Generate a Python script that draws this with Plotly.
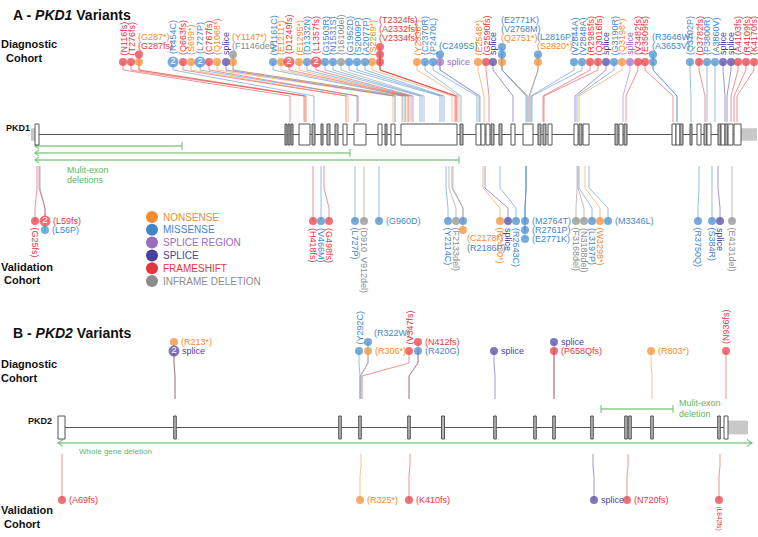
import plotly.graph_objects as go

FONT = "Liberation Sans, Arial, Helvetica, sans-serif"

# ---------------- variant classes ----------------
CLASS_CODES = ["N", "M", "SR", "S", "F", "D"]
CLASS_NAMES = ["NONSENSE", "MISSENSE", "SPLICE REGION", "SPLICE", "FRAMESHIFT", "INFRAME DELETION"]
CLASS_COLORS = ["#F28A2E", "#3F87C9", "#9A6CC0", "#4A3F9F", "#E5353D", "#8C8C8C"]
GREEN = "#5DB85F"

# ---------------- PKD1 gene structure (diagram units) ----------------
PKD1_EXON_START = [35, 285, 288, 291, 299, 312, 321, 327, 335, 343, 354, 378, 385, 391, 401, 460, 476,
                   481, 486, 491, 499, 511, 523, 538, 543, 548, 574, 579, 583, 615, 619, 624, 672, 676,
                   680, 690, 697, 704, 707, 718, 721, 725, 728, 734]
PKD1_EXON_END = [39, 287, 290, 293, 310, 315, 323, 330, 338, 347, 366, 382, 387, 395, 457, 463, 481,
                 485, 490, 494, 502, 515, 533, 541, 546, 552, 578, 582, 589, 618, 623, 627, 676, 680,
                 683, 692, 701, 707, 711, 721, 725, 728, 733, 741]
PKD1_UTR_START = [31, 741]
PKD1_UTR_END = [35, 757]
PKD1_DEL_START = [35, 35, 35]
PKD1_DEL_END = [182, 350, 459]

# ---------------- PKD1 diagnostic cohort ----------------
PKD1_DIAG_LABEL = ["(N116fs)", "(T276fs)", "(G287*)", "(G287fs)", "(R454C)", "(Q663fs)", "(S699*)", "(L727P)",
                   "(C767fs)", "(Q1068*)", "splice", "(Y1147*)", "(F1146del)", "(W1161C)", "(E1211*)",
                   "(D1249fs)", "(E1295*)", "(D1332N)", "(L1357fs)", "(G1503R)", "(N1531S)", "(I1610del)",
                   "(G1952D)", "(S2009P)", "(A2077P)", "(S2269*)", "(T2324fs)", "(A2332fs)", "(V2334fs)",
                   "(Y2336*)", "(C2370R)", "(P2470L)", "(C2495S)", "splice", "(E2548*)", "(G2590fs)",
                   "splice", "(E2771K)", "(V2768M)", "(Q2751*)", "(L2816P)", "(S2820*)", "(V2844A)",
                   "(V2848A)", "(R2985fs)", "(Q3016fs)", "splice", "(G3190R)", "(Q3198*)", "splice",
                   "(V3482fs)", "(E3509fs)", "(R3646W)", "(A3653V)", "(Q3702P)", "(D3782fs)", "(P3800R)",
                   "(A3860V)", "splice", "splice", "(A4103fs)", "(R4109fs)", "(K4170fs)"]
PKD1_DIAG_TYPE = ["F", "F", "N", "F", "M", "F", "N", "M", "F", "N",
                  "S", "N", "D", "M", "N", "F", "N", "M", "F", "M",
                  "M", "D", "M", "M", "M", "N", "F", "F", "F", "N",
                  "M", "M", "M", "SR", "N", "F", "S", "M", "M", "N",
                  "M", "N", "M", "M", "F", "F", "S", "M", "N", "SR",
                  "F", "F", "M", "M", "M", "F", "M", "M", "S", "S",
                  "F", "F", "F"]
PKD1_DIAG_HEAD = [123, 131, 139, 139, 173, 183, 191, 200, 209, 217,
                  226, 233, 233, 273, 281, 289, 299, 307, 316, 325,
                  333, 341, 349, 357, 365, 372, 380, 380, 380, 417,
                  425, 433, 440, 440, 478, 486, 493, 502, 502, 502,
                  538, 538, 574, 582, 590, 598, 606, 614, 622, 630,
                  638, 645, 653, 653, 690, 699, 707, 715, 723, 731,
                  738, 746, 754]
PKD1_DIAG_ROW = [0, 0, 0, 1, 0, 0, 0, 0, 0, 0,
                 0, 0, 1, 0, 0, 0, 0, 0, 0, 0,
                 0, 0, 0, 0, 0, 0, 2, 1, 0, 0,
                 0, 0, 1, 0, 0, 0, 0, 2, 1, 0,
                 1, 0, 0, 0, 0, 0, 0, 0, 0, 0,
                 0, 0, 1, 0, 0, 0, 0, 0, 0, 0,
                 0, 0, 0]
PKD1_DIAG_GENE = [290, 304, 305, 306, 314, 346, 348, 357, 358, 393,
                  395, 402, 403, 405, 406, 408, 409, 411, 413, 420,
                  422, 424, 440, 442, 444, 452, 455, 456, 457, 459,
                  461, 477, 479, 480, 484, 489, 513, 526, 527, 528,
                  529, 530, 531, 532, 543, 544, 575, 577, 579, 623,
                  626, 673, 677, 677, 691, 705, 707, 715, 725, 727,
                  731, 734, 737]
PKD1_DIAG_COUNT = [1, 1, 1, 1, 2, 1, 1, 2, 1, 1,
                   1, 1, 1, 1, 1, 2, 1, 1, 2, 1,
                   1, 1, 1, 1, 1, 1, 1, 1, 1, 1,
                   1, 1, 1, 1, 1, 1, 1, 1, 1, 1,
                   1, 1, 1, 1, 1, 1, 1, 1, 1, 1,
                   1, 1, 1, 1, 1, 1, 1, 1, 1, 1,
                   1, 1, 1]
PKD1_DIAG_MODE = ["v", "v", "a", "a", "v", "v", "v", "v", "v", "v",
                  "v", "a", "a", "v", "v", "v", "v", "v", "v", "v",
                  "v", "v", "v", "v", "v", "v", "a", "a", "a", "v",
                  "v", "v", "a", "r", "v", "v", "v", "a", "a", "a",
                  "a", "a", "v", "v", "v", "v", "v", "v", "v", "v",
                  "v", "v", "a", "a", "v", "v", "v", "v", "v", "v",
                  "v", "v", "v"]

# ---------------- PKD1 validation cohort ----------------
PKD1_VAL_LABEL = ["(G25fs)", "(L59fs)", "(L56P)", "(H418fs)", "(V466M)", "(G498fs)", "(L727P)",
                  "(D910_V912del)", "(G960D)", "(Y2114C)", "(F2133del)", "(C2178*)", "(R2186P)", "(R2430*)",
                  "splice", "(R2643C)", "(M2764T)", "(R2761P)", "(E2771K)", "(F3168del)", "(N3188del)",
                  "(L3197P)", "(W3298*)", "(M3346L)", "(R3750Q)", "(S384R)", "splice", "(E4131del)"]
PKD1_VAL_TYPE = ["F", "F", "M", "F", "M", "F", "M", "D", "M", "M", "D", "N", "M", "N",
                 "S", "M", "M", "M", "M", "D", "D", "M", "N", "M", "M", "M", "S", "D"]
PKD1_VAL_HEAD = [35, 45, 45, 313, 321, 329, 355, 364, 379, 448, 456, 463, 463, 500,
                 508, 516, 525, 525, 525, 576, 584, 592, 600, 608, 698, 712, 720, 732]
PKD1_VAL_ROW = [0, 0, 1, 0, 0, 0, 0, 0, 0, 0, 0, 1, 0, 0,
                0, 0, 0, 1, 2, 0, 0, 0, 0, 0, 0, 0, 0, 0]
PKD1_VAL_GENE = [37, 39, 40, 313, 321, 324, 355, 364, 379, 446, 449, 453, 452, 483,
                 485, 500, 526, 526, 526, 577, 578, 579, 585, 589, 699, 712, 718, 732]
PKD1_VAL_COUNT = [1, 2, 1, 1, 1, 1, 1, 1, 1, 1, 1, 1, 1, 1,
                  1, 1, 1, 1, 1, 1, 1, 1, 1, 1, 1, 1, 1, 1]
PKD1_VAL_MODE = ["vd", "r", "r", "vd", "vd", "vd", "vd", "vd", "r", "vd", "vd", "b", "b", "vd",
                 "vd", "vd", "r", "r", "r", "vd", "vd", "vd", "vd", "r", "vd", "vd", "vd", "vd"]

# ---------------- PKD2 gene structure ----------------
PKD2_EXON_START = [58, 173.7, 338.7, 358.7, 407.7, 441.5, 493.7, 533.7, 552.7, 590.7, 624.7, 628.7,
                   650.7, 717.7, 724]
PKD2_EXON_END = [65, 176.3, 341.3, 361.3, 410.3, 444.5, 496.3, 536.3, 555.3, 593.3, 627.3, 631.3,
                 653.3, 720.3, 728]
PKD2_UTR_START = [728]
PKD2_UTR_END = [748]

# ---------------- PKD2 diagnostic cohort ----------------
PKD2_DIAG_LABEL = ["(R213*)", "splice", "(Y292C)", "(R322W)", "(R306*)", "(V347fs)", "(N412fs)", "(R420G)",
                   "splice", "splice", "(P658Qfs)", "(R803*)", "(N936fs)"]
PKD2_DIAG_TYPE = ["N", "S", "M", "M", "N", "F", "F", "M", "S", "S", "F", "N", "F"]
PKD2_DIAG_HEAD = [174, 174, 359, 368, 368, 409, 418, 418, 494, 554, 554, 651, 726]
PKD2_DIAG_ROW = [1, 0, 0, 1, 0, 0, 1, 0, 0, 1, 0, 0, 0]
PKD2_DIAG_GENE = [175, 175, 360, 360, 361, 362, 409, 409, 495, 554, 554, 652, 726]
PKD2_DIAG_COUNT = [1, 2, 1, 1, 1, 1, 1, 1, 1, 1, 1, 1, 1]
PKD2_DIAG_MODE = ["r", "r", "v", "u", "r", "v", "r", "r", "r", "r", "r", "r", "v"]

# ---------------- PKD2 validation cohort ----------------
PKD2_VAL_LABEL = ["(A69fs)", "(R325*)", "(K410fs)", "splice", "(N720fs)", "(L842fs)"]
PKD2_VAL_TYPE = ["F", "N", "F", "S", "F", "F"]
PKD2_VAL_HEAD = [62, 360, 409, 594, 627, 719]
PKD2_VAL_ROW = [0, 0, 0, 0, 0, 0]
PKD2_VAL_GENE = [62, 361, 410, 593, 628, 720]
PKD2_VAL_COUNT = [1, 1, 1, 1, 1, 1]
PKD2_VAL_MODE = ["r", "r", "r", "r", "r", "vd"]

PKD2_WHOLE_DEL = [58, 752]
PKD2_MULTI_DEL = [601, 673]

# =====================================================================
H_TOTAL = 537
color_of = dict(zip(CLASS_CODES, CLASS_COLORS))


def rgba(hex_color, a):
    h = hex_color.lstrip("#")
    return "rgba(%d,%d,%d,%s)" % (int(h[0:2], 16), int(h[2:4], 16), int(h[4:6], 16), a)


fig = go.Figure()
shapes = []
ann = []
line_xy = {c: ([], []) for c in CLASS_CODES}
mk = {c: ([], [], []) for c in CLASS_CODES}
twos = ([], [])


def txt(x, y, s, color, size=9, angle=0, xa="left", ya="middle"):
    ann.append(dict(x=x, y=y, xref="x", yref="y", text=s, showarrow=False,
                    font=dict(family=FONT, size=size, color=color), textangle=angle,
                    xanchor=xa, yanchor=ya, borderpad=0))


def add_set(labels, types, heads, rows, genes, counts, modes, dot_y0, row_step, route):
    ys = [dot_y0 + row_step * r for r in rows]
    top, bot, rtop, rbot = {}, {}, {}, {}
    for h, y, c in zip(heads, ys, counts):
        r = 5.5 if c == 2 else 4
        if y < top.get(h, 1e9):
            top[h], rtop[h] = y, r
        if y > bot.get(h, -1e9):
            bot[h], rbot[h] = y, r
    a_groups, b_groups = {}, {}
    for i in range(len(labels)):
        t, h, y, g = types[i], heads[i], ys[i], genes[i]
        col = color_of[t]
        pts = route(h, g, y)
        lx, ly = line_xy[t]
        lx.extend([p[0] for p in pts] + [None])
        ly.extend([p[1] for p in pts] + [None])
        size = 11 if counts[i] == 2 else 8
        r = size / 2
        mk[t][0].append(h)
        mk[t][1].append(y)
        mk[t][2].append(size)
        if counts[i] == 2:
            twos[0].append(h)
            twos[1].append(y)
        m = modes[i]
        if m == "v":
            txt(h, top[h] - rtop[h] - 1.5, labels[i], col, angle=-90, xa="center", ya="bottom")
        elif m == "vd":
            y0 = bot[h] + rbot[h] + 1.5
            avail = H_TOTAL - y0 - 1
            fs = min(9, avail / (0.58 * len(labels[i])))
            txt(h, y0, labels[i], col, size=fs, angle=90, xa="center", ya="top")
        elif m == "r":
            txt(h + r + 1.5, y, labels[i], col)
        elif m == "u":
            txt(h + 5, y - 9, labels[i], col)
        elif m == "a":
            a_groups.setdefault(h, []).append(i)
        elif m == "b":
            b_groups.setdefault(h, []).append(i)
    for h, idx in a_groups.items():
        k = len(idx)
        for j, i in enumerate(idx):
            txt(h - 2, top[h] - 9 - 9 * (k - 1 - j), labels[i], color_of[types[i]])
    for h, idx in b_groups.items():
        for j, i in enumerate(idx):
            txt(h + 3, bot[h] + 8 + 9.5 * j, labels[i], color_of[types[i]])


# routes (head -> gene) for each band
def route_pkd1_diag(h, g, y):
    return [(h, y), (h, 70), (g, 96), (g, 122)]


def route_pkd1_val(h, g, y):
    return [(g, 166), (g, 188), (h, 208), (h, y)]


def route_pkd2_diag(h, g, y):
    return [(h, y), (h, 363), (g, 376), (g, 399)]


def route_pkd2_val(h, g, y):
    return [(g, 454), (g, 466), (h, 476), (h, y)]


add_set(PKD1_DIAG_LABEL, PKD1_DIAG_TYPE, PKD1_DIAG_HEAD, PKD1_DIAG_ROW, PKD1_DIAG_GENE,
        PKD1_DIAG_COUNT, PKD1_DIAG_MODE, 62, -7.5, route_pkd1_diag)
add_set(PKD1_VAL_LABEL, PKD1_VAL_TYPE, PKD1_VAL_HEAD, PKD1_VAL_ROW, PKD1_VAL_GENE,
        PKD1_VAL_COUNT, PKD1_VAL_MODE, 221, 9, route_pkd1_val)
add_set(PKD2_DIAG_LABEL, PKD2_DIAG_TYPE, PKD2_DIAG_HEAD, PKD2_DIAG_ROW, PKD2_DIAG_GENE,
        PKD2_DIAG_COUNT, PKD2_DIAG_MODE, 351, -9, route_pkd2_diag)
add_set(PKD2_VAL_LABEL, PKD2_VAL_TYPE, PKD2_VAL_HEAD, PKD2_VAL_ROW, PKD2_VAL_GENE,
        PKD2_VAL_COUNT, PKD2_VAL_MODE, 500, 0, route_pkd2_val)


# ---------------- gene diagrams ----------------
def gene(exs, exe, us, ue, ymid, half, label, label_x):
    shapes.append(dict(type="line", xref="x", yref="y", x0=exe[0], x1=us[-1], y0=ymid, y1=ymid,
                       line=dict(color="#555555", width=1.2), layer="below"))
    for a, b in zip(us, ue):
        shapes.append(dict(type="rect", xref="x", yref="y", x0=a, x1=b, y0=ymid - half * 0.6,
                           y1=ymid + half * 0.6, fillcolor="#C8C8C8", line=dict(width=0)))
    for a, b in zip(exs, exe):
        fill = "#B5B5B5" if (b - a) < 3.5 else "white"
        shapes.append(dict(type="rect", xref="x", yref="y", x0=a, x1=b, y0=ymid - half,
                           y1=ymid + half, fillcolor=fill, line=dict(color="#555555", width=1)))
    txt(label_x, ymid - 7, "<b>%s</b>" % label, "#111111", size=9)


gene(PKD1_EXON_START, PKD1_EXON_END, PKD1_UTR_START, PKD1_UTR_END, 134.5, 10.5, "PKD1", 5)
gene(PKD2_EXON_START, PKD2_EXON_END, PKD2_UTR_START, PKD2_UTR_END, 427.5, 11.5, "PKD2", 27)

# ---------------- deletions ----------------
gx, gy = [], []


def seg(pts):
    gx.extend([p[0] for p in pts] + [None])
    gy.extend([p[1] for p in pts] + [None])


for k, (a, b) in enumerate(zip(PKD1_DEL_START, PKD1_DEL_END)):
    y = 146 + 7 * k
    seg([(a, y), (b, y)])
    seg([(a + 4, y - 3), (a, y), (a + 4, y + 3)])
    seg([(b, y - 4), (b, y + 4)])
a, b = PKD2_WHOLE_DEL
seg([(a, 443), (b, 443)])
seg([(a + 5, 439.5), (a, 443), (a + 5, 446.5)])
seg([(b - 5, 439.5), (b, 443), (b - 5, 446.5)])
a, b = PKD2_MULTI_DEL
seg([(a, 409), (b, 409)])
seg([(a, 405), (a, 413)])
seg([(b, 405), (b, 413)])
fig.add_trace(go.Scatter(x=gx, y=gy, mode="lines", line=dict(color=rgba(GREEN, 0.7), width=1.3),
                         hoverinfo="skip", showlegend=False))
txt(66, 170, "Mulit-exon", GREEN, size=9)
txt(66, 180, "deletions", GREEN, size=9)
txt(678, 403, "Mulit-exon", GREEN, size=9)
txt(678, 414, "deletion", GREEN, size=9)
txt(78, 451, "Whole gene deletion", GREEN, size=8)

# ---------------- variant lines and heads ----------------
for c in CLASS_CODES:
    lx, ly = line_xy[c]
    if lx:
        fig.add_trace(go.Scatter(x=lx, y=ly, mode="lines", line=dict(color=rgba(color_of[c], 0.6), width=0.9),
                                 hoverinfo="skip", showlegend=False))
for c in CLASS_CODES:
    x, y, s = mk[c]
    if x:
        fig.add_trace(go.Scatter(x=x, y=y, mode="markers",
                                 marker=dict(color=color_of[c], size=s, line=dict(width=0)),
                                 hoverinfo="skip", showlegend=False))
fig.add_trace(go.Scatter(x=twos[0], y=twos[1], mode="text", text=["2"] * len(twos[0]),
                         textfont=dict(family=FONT, size=9, color="white"), textposition="middle center",
                         hoverinfo="skip", showlegend=False))

# ---------------- legend ----------------
leg_y = [217 + 12.8 * i for i in range(len(CLASS_CODES))]
fig.add_trace(go.Scatter(x=[152] * len(CLASS_CODES), y=leg_y, mode="markers",
                         marker=dict(color=CLASS_COLORS, size=12, line=dict(width=0)),
                         hoverinfo="skip", showlegend=False))
for name, col, y in zip(CLASS_NAMES, CLASS_COLORS, leg_y):
    txt(162, y, name, col, size=10)

# ---------------- titles / cohort labels ----------------
txt(12, 15, "<b>A - <i>PKD1</i> Variants</b>", "#111111", size=14)
txt(12, 333, "<b>B - <i>PKD2</i> Variants</b>", "#111111", size=14)
txt(0, 44, "<b>Diagnostic</b>", "#111111", size=11)
txt(5, 58, "<b>Cohort</b>", "#111111", size=11)
txt(0, 267, "<b>Validation</b>", "#111111", size=11)
txt(3, 280, "<b>Cohort</b>", "#111111", size=11)
txt(0, 364, "<b>Diagnostic</b>", "#111111", size=11)
txt(0, 378, "<b>Cohort</b>", "#111111", size=11)
txt(0, 510, "<b>Validation</b>", "#111111", size=11)
txt(3, 524, "<b>Cohort</b>", "#111111", size=11)

fig.update_layout(
    width=758, height=H_TOTAL,
    margin=dict(l=0, r=0, t=0, b=0),
    paper_bgcolor="white", plot_bgcolor="white",
    xaxis=dict(range=[0, 758], visible=False, fixedrange=True),
    yaxis=dict(range=[H_TOTAL, 0], visible=False, fixedrange=True),
    shapes=shapes, annotations=ann, showlegend=False,
    font=dict(family=FONT),
)
fig.write_html("out.html", config={"displayModeBar": False},
               post_script="document.body.style.margin='0';document.body.style.overflow='hidden';")
